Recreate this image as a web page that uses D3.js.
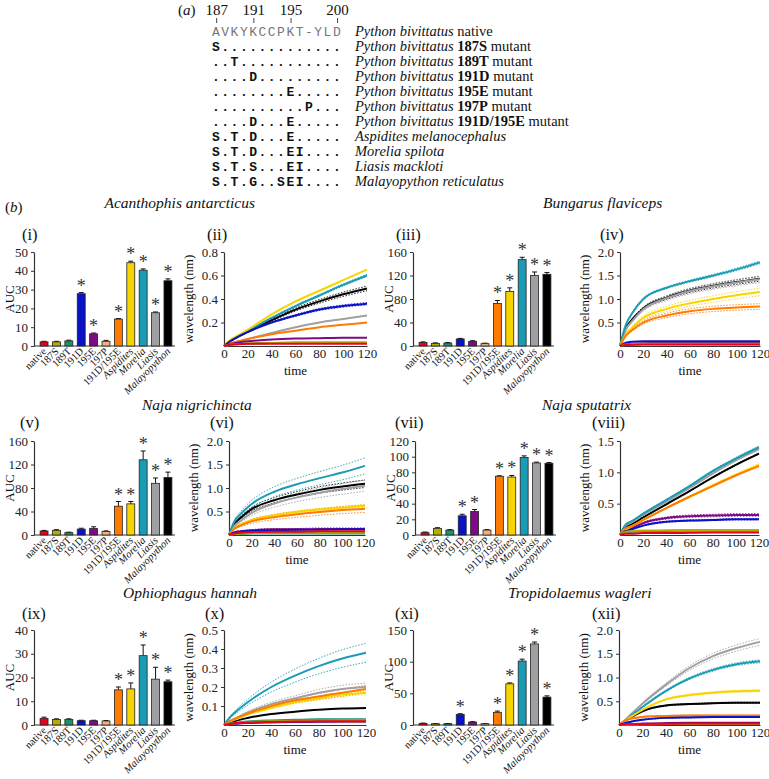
<!DOCTYPE html>
<html><head><meta charset="utf-8">
<script src="https://cdn.jsdelivr.net/npm/d3@7"></script>
<style>
body{margin:0;background:#fff}
svg{display:block}
text{font-family:"Liberation Serif","Times New Roman",serif;fill:#111}
</style>
</head><body>
<svg id="c" width="769" height="779"></svg>
<script>
// ---------- data ----------
const categories = ["native","187S","189T","191D","195E","197P","191D/195E","Aspidites","Morelia","Liasis","Malayopython"];
const italicCats = ["Aspidites","Morelia","Liasis","Malayopython"];
const colors = ["#e8001c","#b2ad00","#17936a","#0a12c8","#7e0a86","#f4b07c","#ff7a00","#f8d400","#1a9cb4","#a0a0a4","#000000"];

// panel (a)
const seqPositions = ["187","191","195","200"];
const seqPosIndex = [0,4,8,13];
const seqRows = ["AVKYKCCPKT-YLD","S.............","..T...........","....D.........","........E.....","..........P...","....D...E.....","S.T.D...E.....","S.T.D...EI....","S.T.S...EI....","S.T.G..SEI...."];
const labelItalic = ["Python bivittatus","Python bivittatus","Python bivittatus","Python bivittatus","Python bivittatus","Python bivittatus","Python bivittatus","Aspidites melanocephalus","Morelia spilota","Liasis mackloti","Malayopython reticulatus"];
const labelBold = ["","187S","189T","191D","195E","197P","191D/195E","","","",""];
const labelTail = [" native"," mutant"," mutant"," mutant"," mutant"," mutant"," mutant","","","",""];

const venoms = ["Acanthophis antarcticus","Bungarus flaviceps","Naja nigrichincta","Naja sputatrix","Ophiophagus hannah","Tropidolaemus wagleri"];

// AUC bar data
const aucI   = [2.2,2.2,2.7,27.8,6.5,2.5,14.3,44.3,40.3,17.7,34.7];
const errI   = [0.3,0.3,0.4,0.6,0.4,0.5,0.3,0.8,0.7,0.4,1.0];
const starI  = [0,0,0,1,1,0,1,1,1,1,1];
const aucIII = [6,4.5,5,12,8,4,72.5,93,147,120,122];
const errIII = [1,0.8,0.8,1,1,0.8,5,6,4,6,3];
const starIII= [0,0,0,0,0,0,1,1,1,1,1];
const aucV   = [6.8,8,4,10,11,6,49,53,128,88,98];
const errV   = [1,1,0.8,1.5,3,1,8,4,15,9,9];
const starV  = [0,0,0,0,0,0,1,1,1,1,1];
const aucVII = [3,8.5,6.3,24.5,30,6.3,75,74,99,92,91.5];
const errVII = [0.8,0.8,0.6,2,2.5,0.6,0.6,2,2,1,1];
const starVII= [0,0,0,1,1,0,1,1,1,1,1];
const aucIX  = [2.8,2.3,2.3,1.8,1.8,1.7,14.8,15.2,29.2,19.3,18.2];
const errIX  = [0.5,0.3,0.3,0.2,0.2,0.2,1.2,2.5,4.5,5,0.7];
const starIX = [0,0,0,0,0,0,1,1,1,1,1];
const aucXI  = [2.6,2,2,16.8,4.7,2,20,65,101,128,44];
const errXI  = [0.4,0.3,0.3,1,0.6,0.3,2,1.5,3,3,2];
const starXI = [0,0,0,1,0,0,1,1,1,1,1];

// time-course data (wavelength shift, nm), series in category order
const time = [0,5,10,20,40,60,80,100,120];
const curvesII = [
 [0,0.01,0.015,0.02,0.02,0.02,0.02,0.02,0.02],
 [0,0.01,0.015,0.02,0.025,0.025,0.025,0.025,0.025],
 [0,0.01,0.015,0.02,0.025,0.03,0.03,0.03,0.03],
 [0,0.04,0.07,0.12,0.2,0.26,0.31,0.34,0.36],
 [0,0.015,0.025,0.04,0.055,0.063,0.067,0.07,0.07],
 [0,0.01,0.015,0.02,0.025,0.025,0.025,0.025,0.025],
 [0,0.02,0.035,0.06,0.1,0.13,0.16,0.18,0.2],
 [0,0.05,0.08,0.14,0.27,0.38,0.47,0.56,0.65],
 [0,0.045,0.075,0.13,0.24,0.34,0.43,0.52,0.6],
 [0,0.02,0.035,0.06,0.11,0.16,0.2,0.23,0.26],
 [0,0.04,0.07,0.12,0.22,0.31,0.38,0.44,0.49]];
const bandsII = [0,0,0,0.01,0,0,0,0,0.01,0,0.02];
const curvesIV = [
 [0,0.02,0.025,0.03,0.03,0.03,0.03,0.03,0.03],
 [0,0.03,0.04,0.05,0.05,0.05,0.05,0.05,0.05],
 [0,0.02,0.03,0.04,0.04,0.04,0.04,0.04,0.04],
 [0,0.07,0.09,0.1,0.1,0.1,0.1,0.1,0.1],
 [0,0.04,0.05,0.06,0.07,0.07,0.07,0.07,0.07],
 [0,0.02,0.025,0.03,0.03,0.03,0.03,0.03,0.03],
 [0,0.22,0.33,0.5,0.65,0.74,0.79,0.82,0.84],
 [0,0.25,0.38,0.6,0.79,0.91,1.0,1.08,1.15],
 [0,0.45,0.68,1.0,1.24,1.38,1.5,1.63,1.78],
 [0,0.35,0.52,0.78,1.02,1.17,1.27,1.35,1.42],
 [0,0.37,0.55,0.8,1.03,1.18,1.28,1.36,1.43]];
const bandsIV = [0,0,0,0,0,0,0.06,0.08,0.03,0.07,0.05];
const curvesVI = [
 [0,0.03,0.05,0.06,0.07,0.07,0.08,0.08,0.08],
 [0,0.02,0.03,0.04,0.05,0.05,0.05,0.05,0.05],
 [0,0.02,0.02,0.03,0.03,0.03,0.03,0.03,0.03],
 [0,0.05,0.07,0.09,0.1,0.11,0.11,0.12,0.12],
 [0,0.06,0.08,0.1,0.12,0.12,0.13,0.13,0.13],
 [0,0.03,0.04,0.05,0.05,0.06,0.06,0.06,0.06],
 [0,0.14,0.2,0.29,0.38,0.44,0.49,0.53,0.56],
 [0,0.15,0.22,0.32,0.42,0.49,0.54,0.58,0.62],
 [0,0.3,0.44,0.66,0.92,1.08,1.21,1.33,1.47],
 [0,0.2,0.3,0.47,0.67,0.8,0.9,0.98,1.05],
 [0,0.24,0.36,0.55,0.74,0.86,0.96,1.03,1.09]];
const bandsVI = [0,0,0,0,0.02,0,0.08,0.03,0.17,0.12,0.08];
const curvesVIII = [
 [0,0.02,0.02,0.03,0.03,0.035,0.04,0.04,0.04],
 [0,0.05,0.06,0.07,0.075,0.08,0.08,0.08,0.08],
 [0,0.04,0.05,0.06,0.065,0.07,0.07,0.07,0.07],
 [0,0.06,0.09,0.15,0.21,0.23,0.24,0.25,0.25],
 [0,0.05,0.1,0.19,0.27,0.3,0.31,0.32,0.32],
 [0,0.03,0.03,0.04,0.04,0.045,0.05,0.05,0.05],
 [0,0.1,0.14,0.24,0.43,0.61,0.78,0.95,1.1],
 [0,0.1,0.14,0.24,0.43,0.61,0.79,0.96,1.12],
 [0,0.17,0.22,0.34,0.56,0.78,1.02,1.22,1.4],
 [0,0.15,0.2,0.32,0.53,0.75,0.98,1.19,1.37],
 [0,0.13,0.17,0.28,0.49,0.7,0.92,1.12,1.3]];
const bandsVIII = [0,0,0,0.01,0.02,0,0,0.02,0.02,0.01,0.01];
const curvesX = [
 [0,0.005,0.01,0.013,0.016,0.018,0.02,0.02,0.02],
 [0,0.005,0.01,0.015,0.02,0.022,0.024,0.025,0.025],
 [0,0.008,0.012,0.018,0.024,0.027,0.03,0.03,0.03],
 [0,0.005,0.008,0.012,0.015,0.017,0.018,0.02,0.02],
 [0,0.005,0.008,0.012,0.016,0.018,0.02,0.02,0.02],
 [0,0.005,0.008,0.01,0.012,0.014,0.015,0.015,0.015],
 [0,0.02,0.035,0.06,0.1,0.13,0.15,0.17,0.19],
 [0,0.018,0.03,0.055,0.09,0.12,0.14,0.16,0.17],
 [0,0.04,0.07,0.12,0.2,0.26,0.31,0.35,0.38],
 [0,0.02,0.035,0.065,0.11,0.14,0.17,0.19,0.2],
 [0,0.012,0.022,0.037,0.058,0.07,0.08,0.087,0.09]];
const bandsX = [0,0,0,0,0,0,0.02,0.01,0.05,0.02,0];
const curvesXII = [
 [0,0.01,0.015,0.02,0.025,0.03,0.03,0.03,0.03],
 [0,0.005,0.01,0.015,0.02,0.02,0.02,0.02,0.02],
 [0,0.005,0.01,0.015,0.02,0.02,0.02,0.02,0.02],
 [0,0.04,0.07,0.11,0.15,0.16,0.17,0.17,0.17],
 [0,0.01,0.02,0.03,0.04,0.045,0.05,0.05,0.05],
 [0,0.01,0.015,0.02,0.025,0.03,0.03,0.03,0.03],
 [0,0.09,0.13,0.17,0.19,0.2,0.2,0.2,0.2],
 [0,0.09,0.17,0.32,0.54,0.63,0.68,0.71,0.72],
 [0,0.09,0.19,0.38,0.72,0.98,1.16,1.28,1.34],
 [0,0.1,0.22,0.45,0.85,1.2,1.45,1.62,1.75],
 [0,0.08,0.16,0.29,0.41,0.44,0.46,0.47,0.47]];
const bandsXII = [0,0,0,0.01,0,0,0.01,0.02,0.03,0.07,0.01];

const timeTicks = [0,20,40,60,80,100,120];

// ---------- drawing ----------
const svg = d3.select("#c");

// panel (a)
const ga = svg.append("g");
ga.append("text").attr("x",178).attr("y",15).attr("font-size",15).html('(<tspan font-style="italic">a</tspan>)');
const seqX0 = 212, charW = 9.3;
seqPositions.forEach((p,i)=>{
  const cx = seqX0 + seqPosIndex[i]*charW + charW/2;
  ga.append("text").attr("x",cx).attr("y",15).attr("text-anchor","middle").attr("font-size",15).text(p);
  ga.append("line").attr("x1",cx).attr("x2",cx).attr("y1",18).attr("y2",23).attr("stroke","#444").attr("stroke-width",1);
});
seqRows.forEach((s,i)=>{
  const y = 36 + i*15;
  ga.append("text").attr("x",seqX0).attr("y",y)
    .style("font-family",'"Liberation Mono","Courier New",monospace')
    .attr("font-size",13)
    .attr("letter-spacing",1.5)
    .attr("font-weight", i===0 ? "normal" : "bold")
    .style("fill", i===0 ? "#777" : "#111")
    .text(s);
  const t = ga.append("text").attr("x",355).attr("y",y).attr("font-size",14.5);
  t.append("tspan").attr("font-style","italic").text(labelItalic[i]);
  if (labelBold[i]) { t.append("tspan").text(" "); t.append("tspan").attr("font-weight","bold").text(labelBold[i]); }
  if (labelTail[i]) t.append("tspan").text(labelTail[i]);
});

// panel (b) headers
svg.append("text").attr("x",5).attr("y",212).attr("font-size",15).html('(<tspan font-style="italic">b</tspan>)');
const titlePos = [[255,208,"end"],[543,208,"start"],[142,410,"start"],[542,410,"start"],[123,598,"start"],[508,598,"start"]];
venoms.forEach((v,i)=>{
  svg.append("text").attr("x",titlePos[i][0]).attr("y",titlePos[i][1]).attr("text-anchor",titlePos[i][2])
    .attr("font-size",15.5).attr("font-style","italic").text(v);
});

function styleAxis(g){
  g.select(".domain").attr("stroke","#333").attr("stroke-width",1.2);
  g.selectAll(".tick line").attr("stroke","#333");
  g.selectAll(".tick text").style("font-family",'"Liberation Serif",serif').attr("font-size",13).style("fill","#222");
}

function barPanel(c){
  const g = svg.append("g");
  const y = d3.scaleLinear().domain([0,c.max]).range([c.yBot,c.yTop]);
  const x = d3.scaleBand().domain(categories).range([c.x0+3,c.x0+141]).paddingInner(0.36).paddingOuter(0.25);
  const ya = g.append("g").attr("transform",`translate(${c.x0},0)`).call(d3.axisLeft(y).tickValues(c.ticks).tickSize(3).tickSizeOuter(0));
  styleAxis(ya);
  g.append("line").attr("x1",c.x0).attr("x2",c.x0+141).attr("y1",c.yBot).attr("y2",c.yBot).attr("stroke","#333").attr("stroke-width",1.2);
  categories.forEach((cat,i)=>{
    const v=c.vals[i], e=c.errs[i], cx=x(cat)+x.bandwidth()/2;
    g.append("line").attr("x1",cx).attr("x2",cx).attr("y1",y(v)).attr("y2",y(v+e)).attr("stroke","#111").attr("stroke-width",1);
    g.append("line").attr("x1",cx-2.5).attr("x2",cx+2.5).attr("y1",y(v+e)).attr("y2",y(v+e)).attr("stroke","#111").attr("stroke-width",1);
    g.append("rect").attr("x",x(cat)).attr("width",x.bandwidth()).attr("y",y(v)).attr("height",c.yBot-y(v))
      .attr("fill",colors[i]).attr("stroke","#222").attr("stroke-width",0.8);
    if (c.stars[i]) g.append("text").attr("x",cx).attr("y",y(v+e)-1).attr("text-anchor","middle").attr("font-size",18).style("fill","#333").text("*");
    g.append("text").attr("transform",`translate(${cx+3},${c.yBot+6}) rotate(-45)`).attr("text-anchor","end")
      .attr("font-size",10.5).attr("font-style",italicCats.includes(cat)?"italic":"normal").text(cat);
  });
  g.append("text").attr("transform",`translate(${c.x0-20},${(c.yTop+c.yBot)/2}) rotate(-90)`).attr("text-anchor","middle").attr("font-size",13).text("AUC");
  g.append("text").attr("x",c.lx).attr("y",c.ly).attr("font-size",16.5).text(c.label);
}

function linePanel(c){
  const g = svg.append("g");
  const x = d3.scaleLinear().domain([0,120]).range([c.x0,c.x1]);
  const y = d3.scaleLinear().domain([0,c.max]).range([c.yBot,c.yTop]);
  const ya = g.append("g").attr("transform",`translate(${c.x0},0)`).call(d3.axisLeft(y).tickValues(c.ticks).tickSize(3).tickSizeOuter(0).tickFormat(d3.format(c.fmt)));
  styleAxis(ya);
  const xa = g.append("g").attr("transform",`translate(0,${c.yBot})`).call(d3.axisBottom(x).tickValues(timeTicks).tickSize(0).tickPadding(3));
  styleAxis(xa);
  const line = d3.line().x((d,i)=>x(time[i])).y(d=>y(d)).curve(d3.curveMonotoneX);
  const order = d3.range(categories.length).reverse();
  order.forEach(i=>{
    const b=c.bands[i], end=c.curves[i][c.curves[i].length-1]||1;
    if (b>0){
      [1,-1].forEach(sg=>{
        g.append("path").attr("d",line(c.curves[i].map(v=>Math.max(0,v+sg*b*v/end)))).attr("fill","none")
          .attr("stroke",colors[i]).attr("stroke-width",1).attr("stroke-dasharray","1.5,1.5").attr("opacity",0.85);
      });
    }
  });
  order.forEach(i=>{
    g.append("path").attr("d",line(c.curves[i])).attr("fill","none").attr("stroke",colors[i]).attr("stroke-width",2);
  });
  g.append("text").attr("transform",`translate(${c.x0-31},${(c.yTop+c.yBot)/2}) rotate(-90)`).attr("text-anchor","middle").attr("font-size",13).text("wavelength (nm)");
  g.append("text").attr("x",(c.x0+c.x1)/2).attr("y",c.yBot+29).attr("text-anchor","middle").attr("font-size",13).text("time");
  g.append("text").attr("x",c.lx).attr("y",c.ly).attr("font-size",16.5).text(c.label);
}

const rows = [[252,346],[441,535],[630,725]];
const labelY = [240,428,618.5];
barPanel({x0:34,yTop:rows[0][0],yBot:rows[0][1],max:50,ticks:[0,10,20,30,40,50],vals:aucI,errs:errI,stars:starI,label:"(i)",lx:22,ly:labelY[0]});
barPanel({x0:413,yTop:rows[0][0],yBot:rows[0][1],max:160,ticks:[0,40,80,120,160],vals:aucIII,errs:errIII,stars:starIII,label:"(iii)",lx:396,ly:labelY[0]});
barPanel({x0:34,yTop:rows[1][0],yBot:rows[1][1],max:160,ticks:[0,40,80,120,160],vals:aucV,errs:errV,stars:starV,label:"(v)",lx:20,ly:labelY[1]});
barPanel({x0:415,yTop:rows[1][0],yBot:rows[1][1],max:120,ticks:[0,20,40,60,80,100,120],vals:aucVII,errs:errVII,stars:starVII,label:"(vii)",lx:395,ly:labelY[1]});
barPanel({x0:34,yTop:rows[2][0],yBot:rows[2][1],max:40,ticks:[0,10,20,30,40],vals:aucIX,errs:errIX,stars:starIX,label:"(ix)",lx:22,ly:labelY[2]});
barPanel({x0:413,yTop:rows[2][0],yBot:rows[2][1],max:150,ticks:[0,50,100,150],vals:aucXI,errs:errXI,stars:starXI,label:"(xi)",lx:395,ly:labelY[2]});

linePanel({x0:224,x1:367,yTop:rows[0][0],yBot:rows[0][1],max:0.8,ticks:[0.2,0.4,0.6,0.8],fmt:".1f",curves:curvesII,bands:bandsII,label:"(ii)",lx:207,ly:labelY[0]});
linePanel({x0:620,x1:760,yTop:rows[0][0],yBot:rows[0][1],max:2.0,ticks:[0.5,1.0,1.5,2.0],fmt:".1f",curves:curvesIV,bands:bandsIV,label:"(iv)",lx:600,ly:labelY[0]});
linePanel({x0:229,x1:365,yTop:rows[1][0],yBot:rows[1][1],max:2.0,ticks:[0.5,1.0,1.5,2.0],fmt:".1f",curves:curvesVI,bands:bandsVI,label:"(vi)",lx:210,ly:labelY[1]});
linePanel({x0:620,x1:759,yTop:rows[1][0],yBot:rows[1][1],max:1.5,ticks:[0.5,1.0,1.5],fmt:".1f",curves:curvesVIII,bands:bandsVIII,label:"(viii)",lx:592,ly:labelY[1]});
linePanel({x0:224,x1:366,yTop:rows[2][0],yBot:rows[2][1],max:0.5,ticks:[0.1,0.2,0.3,0.4,0.5],fmt:".1f",curves:curvesX,bands:bandsX,label:"(x)",lx:205,ly:labelY[2]});
linePanel({x0:619,x1:760,yTop:rows[2][0],yBot:rows[2][1],max:2.0,ticks:[0.5,1.0,1.5,2.0],fmt:".1f",curves:curvesXII,bands:bandsXII,label:"(xii)",lx:592,ly:labelY[2]});
</script>
</body></html>
